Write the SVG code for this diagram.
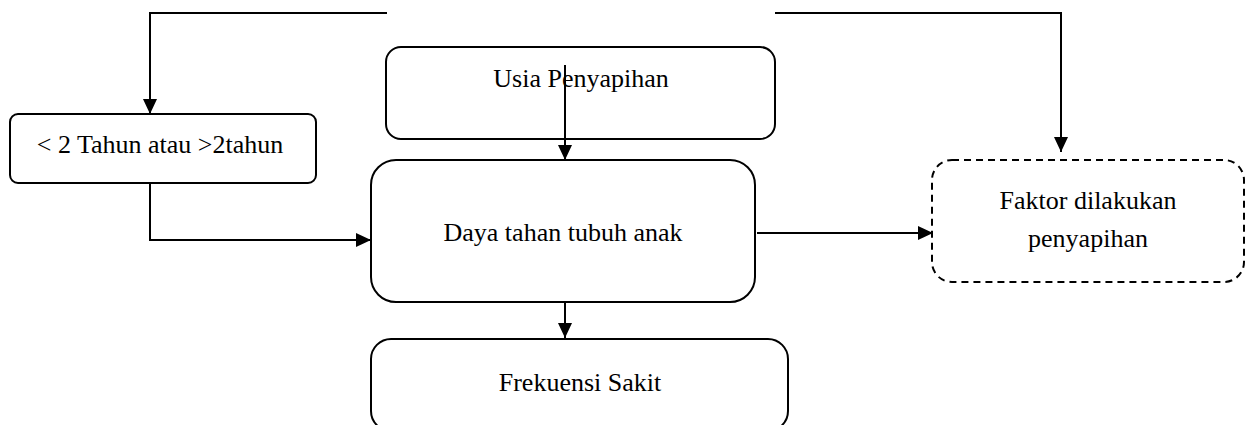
<svg xmlns="http://www.w3.org/2000/svg" width="1246" height="425" viewBox="0 0 1246 425">
<style>
.box{fill:#fff;stroke:#000;stroke-width:2}
.dash{fill:#fff;stroke:#000;stroke-width:2;stroke-dasharray:7 5}
.line{fill:none;stroke:#000;stroke-width:2}
.arr{fill:none;stroke:#000;stroke-width:2;marker-end:url(#ah)}
text{font-family:"Liberation Serif","Times New Roman",serif;font-size:26px;fill:#000;text-anchor:middle}
</style>
<defs>
<marker id="ah" markerUnits="userSpaceOnUse" markerWidth="16" markerHeight="16" viewBox="0 0 16 16" refX="15" refY="8" orient="auto">
<path d="M0,1 L15,8 L0,15 Z" fill="#000"/>
</marker>
</defs>
<g id="n1"><rect class="box" x="10" y="114" width="306" height="69" rx="8"/><text x="160" y="153">&lt; 2 Tahun atau &gt;2tahun</text></g>
<g id="n2"><rect class="box" x="386" y="47" width="389" height="92" rx="15"/><text x="581" y="87">Usia Penyapihan</text></g>
<g id="n3"><rect class="box" x="371" y="160" width="384" height="142" rx="25"/><text x="563" y="241">Daya tahan tubuh anak</text></g>
<g id="n4"><rect class="dash" x="932" y="160" width="312" height="122" rx="20"/><text x="1088" y="209">Faktor dilakukan</text><text x="1088" y="247">penyapihan</text></g>
<g id="n5"><rect class="box" x="371" y="339" width="417" height="92" rx="20"/><text x="580" y="391">Frekuensi Sakit</text></g>
<g id="connectors">
<path class="arr" d="M387,13 H150 V114"/>
<path class="arr" d="M775,13 H1061 V152"/>
<path class="arr" d="M565,65 V160"/>
<path class="arr" d="M150,183 V240 H371"/>
<path class="arr" d="M757,233 H933"/>
<path class="arr" d="M565,302 V338"/>
</g>
</svg>
